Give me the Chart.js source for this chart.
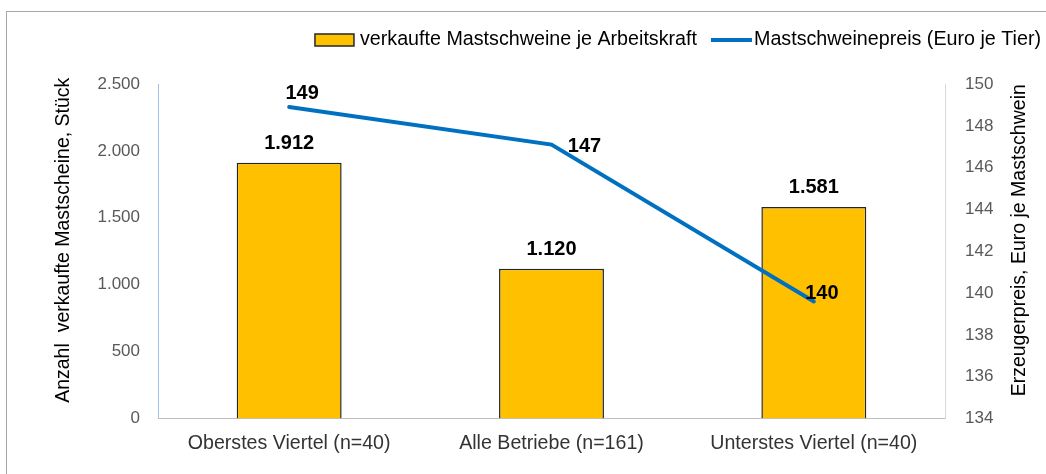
<!DOCTYPE html>
<html>
<head>
<meta charset="utf-8">
<script src="https://cdn.jsdelivr.net/npm/chart.js@4.4.1/dist/chart.umd.min.js"></script>
<style>
  html, body { margin: 0; padding: 0; background: #fff; }
  #frame { position: absolute; left: 6px; top: 11px; width: 1100px; height: 500px; border: 1px solid #a6a6a6; }
  #wrap { position: absolute; left: 0; top: 0; width: 1046px; height: 474px; }
</style>
</head>
<body>
<div id="frame"></div>
<div id="wrap"><canvas id="chart" width="1046" height="474"></canvas></div>
<script>
const categories = ['Oberstes Viertel (n=40)', 'Alle Betriebe (n=161)', 'Unterstes Viertel (n=40)']
const pigsPerWorker = [1912, 1120, 1581]
const pricePerPig = [148.9, 147.1, 139.6]
const seriesNames = ['verkaufte Mastschweine je Arbeitskraft', 'Mastschweinepreis (Euro je Tier)']
const axisTitles = ['Anzahl  verkaufte Mastscheine, Stück', 'Erzeugerpreis, Euro je Mastschwein']

// manual label placement, like in the original spreadsheet chart
const priceLabelOffsets = [[13, -14], [33, 2], [8, -8]]

const FONT = '"Liberation Sans", Arial, sans-serif'
const BAR_COLOR = '#FFC000'
const LINE_COLOR = '#0070C0'

// German thousands separator
const fmt = n => String(n).replace(/\B(?=(\d{3})+(?!\d))/g, '.')

const topLegend = {
  id: 'topLegend',
  afterDraw(chart) {
    const { ctx } = chart
    const [bars, line] = chart.data.datasets
    ctx.save()
    ctx.font = `19.7px ${FONT}`
    ctx.textBaseline = 'middle'
    ctx.fillStyle = '#000'
    const y = 40
    const w1 = ctx.measureText(bars.label).width
    const w2 = ctx.measureText(line.label).width
    let x = 1041 - (39 + 6 + w1 + 14 + 41 + 2 + w2)

    ctx.fillStyle = bars.backgroundColor
    ctx.fillRect(x, y - 6, 39, 12)
    ctx.strokeStyle = bars.borderColor
    ctx.lineWidth = 1.5
    ctx.strokeRect(x, y - 6, 39, 12)
    x += 45
    ctx.fillStyle = '#000'
    ctx.fillText(bars.label, x, y)
    x += w1 + 14

    ctx.strokeStyle = line.borderColor
    ctx.lineWidth = line.borderWidth
    ctx.beginPath()
    ctx.moveTo(x, y)
    ctx.lineTo(x + 41, y)
    ctx.stroke()
    x += 43
    ctx.fillText(line.label, x, y)
    ctx.restore()
  }
}

// both axis titles read bottom-to-top, which chart.js does not do for a right axis
const axisTitleDraw = {
  id: 'axisTitleDraw',
  afterDraw(chart) {
    const { ctx, chartArea } = chart
    const midY = (chartArea.top + chartArea.bottom) / 2 - 11
    const spots = [[chart.scales.y.left + 64, axisTitles[0]], [chart.scales.y1.right - 26, axisTitles[1]]]
    ctx.save()
    ctx.font = `19.5px ${FONT}`
    ctx.fillStyle = '#000'
    ctx.textAlign = 'center'
    ctx.textBaseline = 'middle'
    spots.forEach(([x, text]) => {
      ctx.save()
      ctx.translate(x, midY)
      ctx.rotate(-Math.PI / 2)
      ctx.fillText(text, 0, 0)
      ctx.restore()
    })
    ctx.restore()
  }
}

const valueLabels = {
  id: 'valueLabels',
  afterDatasetsDraw(chart) {
    const { ctx } = chart
    ctx.save()
    ctx.font = `bold 20px ${FONT}`
    ctx.fillStyle = '#000'
    ctx.textAlign = 'center'
    ctx.textBaseline = 'middle'
    chart.getDatasetMeta(0).data.forEach((bar, i) => {
      ctx.fillText(fmt(pigsPerWorker[i]), bar.x, bar.y - 19)
    })
    chart.getDatasetMeta(1).data.forEach((pt, i) => {
      const [dx, dy] = priceLabelOffsets[i]
      ctx.fillText(String(Math.round(pricePerPig[i])), pt.x + dx, pt.y + dy)
    })
    ctx.restore()
  }
}

new Chart(document.getElementById('chart'), {
  type: 'bar',
  data: {
    labels: categories,
    datasets: [
      {
        label: seriesNames[0],
        data: pigsPerWorker,
        yAxisID: 'y',
        backgroundColor: BAR_COLOR,
        borderColor: '#262626',
        borderWidth: 1.5,
        categoryPercentage: 1,
        barPercentage: 0.4,
        order: 1
      },
      {
        type: 'line',
        label: seriesNames[1],
        data: pricePerPig,
        yAxisID: 'y1',
        borderColor: LINE_COLOR,
        backgroundColor: LINE_COLOR,
        borderWidth: 4,
        borderCapStyle: 'round',
        pointRadius: 0,
        tension: 0,
        order: 0
      }
    ]
  },
  options: {
    responsive: false,
    animation: false,
    devicePixelRatio: 1,
    layout: { padding: { top: 84, left: 0, right: 0, bottom: 0 } },
    plugins: {
      legend: { display: false },
      tooltip: { enabled: false }
    },
    scales: {
      x: {
        grid: { display: false, drawTicks: false },
        border: { color: '#bfbfbf', width: 1 },
        ticks: { padding: 13, color: '#333', font: { family: FONT, size: 19.6 } },
        afterFit(s) { s.height = 55.5 }
      },
      y: {
        position: 'left',
        min: 0,
        max: 2500,
        grid: { display: false, drawTicks: false },
        border: { color: '#9dc3e6', width: 1 },
        ticks: {
          stepSize: 500, padding: 18, color: '#595959',
          font: { family: FONT, size: 17 },
          callback: v => fmt(v)
        },
        afterFit(s) { s.width = 158 }
      },
      y1: {
        position: 'right',
        min: 134,
        max: 150,
        grid: { display: false, drawTicks: false },
        border: { color: '#d9d9d9', width: 1 },
        ticks: {
          stepSize: 2, padding: 20, color: '#595959',
          font: { family: FONT, size: 17 }
        },
        afterFit(s) { s.width = 101 }
      }
    }
  },
  plugins: [topLegend, axisTitleDraw, valueLabels]
})
</script>
</body>
</html>
